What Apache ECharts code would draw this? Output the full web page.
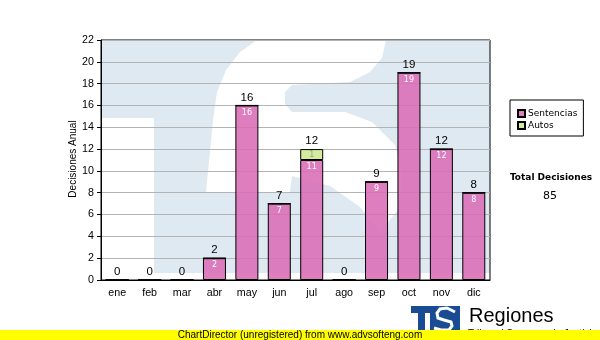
<!DOCTYPE html>
<html><head><meta charset="utf-8">
<script src="https://cdn.jsdelivr.net/npm/echarts@6/dist/echarts.min.js"></script>
<style>html,body{margin:0;padding:0;background:#fff}#c{width:600px;height:340px}</style>
</head><body><div id="c"></div>
<script>
const months = ['ene','feb','mar','abr','may','jun','jul','ago','sep','oct','nov','dic'];
const sentencias = [0,0,0,2,16,7,11,0,9,19,12,8];
const autos = [0,0,0,0,0,0,1,0,0,0,0,0];
const yMin = 0, yMax = 22, yStep = 2;
const seriesNames = ['Sentencias','Autos'];
const totals = months.map((m,i)=>sentencias[i]+autos[i]);
const grandTotal = totals.reduce((a,b)=>a+b,0);

const WM = '#dfe9f2';
const ARIAL = 'Liberation Sans, Arial, sans-serif';
const VERD = 'DejaVu Sans, Verdana, sans-serif';

const watermark = [[101,40],[257,40],[240,52],[226,70],[217,92],[213,120],[206,192],[290,192],[292,176],[330,186],[360,207],[380,232],[398,210],[403,175],[395,145],[372,122],[345,112],[292,112],[285,104],[285,92],[292,85],[350,82],[370,72],[382,58],[386,40],[490,40],[490,273],[154,273],[154,118],[101,118]];

const chart = echarts.init(document.getElementById('c'), null, {renderer:'canvas'});
const option = {
  animation:false,
  backgroundColor:'#fff',
  grid:{left:101, top:40, width:389, height:240, show:true, borderColor:'#000', borderWidth:1, backgroundColor:'transparent'},
  legend:{
    data:seriesNames, orient:'vertical', left:510, top:100,
    borderColor:'#000', borderWidth:1, padding:[8,6,5,7],
    itemWidth:7, itemHeight:7, itemGap:1, icon:'rect',
    textStyle:{fontFamily:VERD, fontSize:9, color:'#000', lineHeight:11, padding:[0,0,0,-2]},
    selectedMode:false
  },
  xAxis:{
    type:'category', data:months,
    axisLine:{lineStyle:{color:'#000', width:1}},
    axisTick:{alignWithLabel:true, length:4, lineStyle:{color:'#000'}},
    axisLabel:{fontFamily:ARIAL, fontSize:10.7, color:'#000', margin:8}
  },
  yAxis:{
    type:'value', min:yMin, max:yMax, interval:yStep,
    axisLine:{show:true, lineStyle:{color:'#000'}},
    axisTick:{show:true, length:4, lineStyle:{color:'#000'}},
    axisLabel:{fontFamily:ARIAL, fontSize:10.7, color:'#000', margin:7},
    splitLine:{lineStyle:{color:'#b4b4b4', width:1}}
  },
  series:[
    {name:seriesNames[0], type:'bar', stack:'a', data:sentencias, barWidth:23,
     itemStyle:{color:'rgba(218,108,182,0.88)', borderColor:'#000', borderWidth:1},
     label:{show:true, position:'insideTop', distance:3, fontFamily:VERD, fontSize:8, color:'#fff',
       formatter:p=>p.value>0?String(p.value):''}},
    {name:seriesNames[1], type:'bar', stack:'a', data:autos, barWidth:23,
     itemStyle:{color:'#d4ec9c', borderColor:'#000', borderWidth:1},
     label:{show:true, position:'insideTop', distance:2, fontFamily:VERD, fontSize:8, color:'#9a9a9a',
       formatter:p=>p.value>0?String(p.value):''}},
    {name:'total', type:'bar', stack:'a', data:months.map(()=>0), barWidth:23,
     itemStyle:{color:'transparent', borderWidth:0},
     label:{show:true, position:'top', distance:2, fontFamily:ARIAL, fontSize:11.5, color:'#000',
       formatter:p=>String(totals[p.dataIndex])}}
  ],
  graphic:[
    {type:'polygon', z:-20, silent:true, shape:{points:watermark}, style:{fill:WM}},
    {type:'text', x:73, y:159, rotation:Math.PI/2, style:{text:'Decisiones Anual', fontFamily:ARIAL, fontSize:10, fill:'#000', align:'center', verticalAlign:'middle'}},
    {type:'text', x:551, y:178, style:{text:'Total Decisiones', fontFamily:VERD, fontWeight:'bold', fontSize:9, fill:'#000', align:'center', verticalAlign:'middle'}},
    {type:'text', x:550, y:196, style:{text:String(grandTotal), fontFamily:VERD, fontSize:11, fill:'#000', align:'center', verticalAlign:'middle'}},
    {type:'rect', shape:{x:411, y:306, width:49, height:26}, style:{fill:'#1a4c94'}},
    {type:'rect', shape:{x:411, y:313, width:7, height:20}, style:{fill:'#fff'}},
    {type:'rect', shape:{x:425, y:313, width:5, height:20}, style:{fill:'#fff'}},
    {type:'polyline', shape:{points:[[455,312],[447,308],[440,309],[437,313],[438,318],[444,320],[451,322],[452,326],[449,330],[441,330],[434,328]]}, style:{fill:null, stroke:'#fff', lineWidth:3}},
    {type:'text', x:469, y:316, style:{text:'Regiones', fontFamily:ARIAL, fontSize:20, fill:'#000', verticalAlign:'middle'}},
    {type:'text', x:468, y:334, style:{text:'Tribunal Supremo de Justicia', fontFamily:ARIAL, fontSize:10, fill:'#000', verticalAlign:'middle'}},
    {type:'rect', z:10, shape:{x:0, y:330, width:600, height:10}, style:{fill:'#ffff00'}},
    {type:'text', z:11, x:300, y:335, style:{text:'ChartDirector (unregistered) from www.advsofteng.com', fontFamily:ARIAL, fontSize:10, fill:'#000', align:'center', verticalAlign:'middle'}}
  ]
};
chart.setOption(option);
</script></body></html>
